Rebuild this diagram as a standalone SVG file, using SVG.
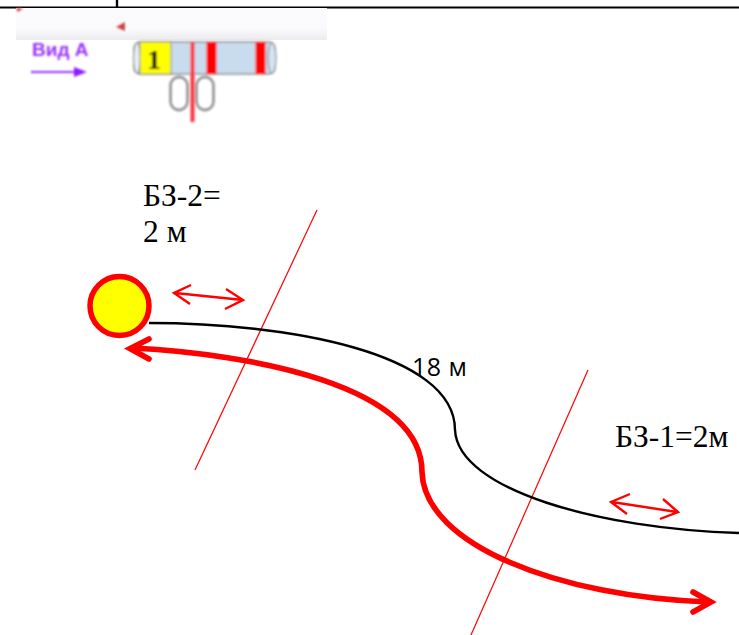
<svg xmlns="http://www.w3.org/2000/svg" width="739" height="635" viewBox="0 0 739 635">
<defs>
<linearGradient id="band" x1="0" y1="0" x2="0" y2="1"><stop offset="0" stop-color="#fbfbfe"/><stop offset="0.65" stop-color="#fafafc"/><stop offset="1" stop-color="#ececf0"/></linearGradient>
<filter id="soft" x="-10%" y="-10%" width="120%" height="120%"><feGaussianBlur stdDeviation="0.9"/></filter>
</defs>
<style>
.thin{fill:none;stroke:#f00;stroke-width:1.2}
.dbl{fill:none;stroke:#f00;stroke-width:2.4}
.blk{fill:none;stroke:#000;stroke-width:2.4}
.thick{fill:none;stroke:#f00;stroke-width:5.600}
.serif{font-family:"Liberation Serif",serif;font-size:31.500px;fill:#000}
</style>
<g id="header">
<path d="M0 7.500H739" stroke="#000" stroke-width="2"/>
<path d="M117 0V7" stroke="#000" stroke-width="2.400"/>
<rect x="16" y="8" width="311" height="32" fill="url(#band)"/>
<path d="M16 8h7l-5 4z" fill="#d0433c" filter="url(#soft)"/>
<path d="M116 27l9-5v9z" fill="#d0433c" filter="url(#soft)"/>
</g>
<g id="view-a" filter="url(#soft)">
<text x="32" y="56" font-family="Liberation Sans,sans-serif" font-size="19" font-weight="700" fill="#9933ff">Вид А</text>
<path d="M31 72H78" stroke="#9933ff" stroke-width="2"/>
<path d="M74 67l13 5-13 5z" fill="#8a1cff"/>
</g>
<g id="cable" filter="url(#soft)">
<rect x="134" y="42" width="141" height="32" rx="6" fill="#c9dcee" stroke="#8d9296" stroke-width="1.500"/>
<ellipse cx="137" cy="58" rx="3.500" ry="15" fill="#e8eef4" stroke="#8d9296" stroke-width="1.200"/>
<rect x="140" y="42" width="31" height="32" fill="#ff0" stroke="#777" stroke-width="0.800"/>
<text x="154" y="69" text-anchor="middle" font-family="Liberation Serif,serif" font-size="28" font-weight="700">1</text>
<rect x="206.500" y="42" width="10" height="32" fill="#f00"/>
<rect x="255.500" y="42" width="10" height="32" fill="#f00"/>
<ellipse cx="272" cy="58" rx="4" ry="15" fill="#d5e3f0" stroke="#8d9296" stroke-width="1.200"/>
<rect x="170.500" y="77" width="17" height="33" rx="8.500" fill="none" stroke="#999" stroke-width="2.800"/>
<rect x="196.500" y="77" width="17" height="33" rx="8.500" fill="none" stroke="#999" stroke-width="2.800"/>
<path d="M192.500 42V122" stroke="#ff3040" stroke-width="4"/>
</g>
<g id="connectors">
<path class="thin" d="M317 210L195 470"/>
<path class="thin" d="M588 370L471 635"/>
<path class="blk" d="M149 323C285 323 455 352 455 430C458 490 600 529 739 533"/>
<path class="thick" d="M133 348C250 354 422 385 422 472C424 545 560 597 708 602"/>
<path class="thick" stroke-linecap="round" d="M149 339L130 348.500L149 359"/>
<path class="thick" stroke-linecap="round" d="M693 592L711 602L693 612"/>
<path class="dbl" d="M175 293L243 300M191 285L174 293L190 304M226 289L243 300L225 309"/>
<path class="dbl" d="M612 502L677 512M630 494L611 502L627 514M663 499L678 512L660 519"/>
</g>
<g id="source"><circle cx="119.500" cy="306" r="29.500" fill="#ff0" stroke="#f00" stroke-width="5.500"/></g>
<g id="label-bz2"><text class="serif" x="143" y="206">БЗ-2=</text><text class="serif" x="143" y="242">2 м</text></g>
<g id="label-18"><text x="412" y="376" font-family="Open Sans,sans-serif" font-size="25" letter-spacing="0.500" fill="#000">18 м</text></g>
<g id="label-bz1"><text class="serif" x="615" y="447">БЗ-1=2м</text></g>
</svg>
